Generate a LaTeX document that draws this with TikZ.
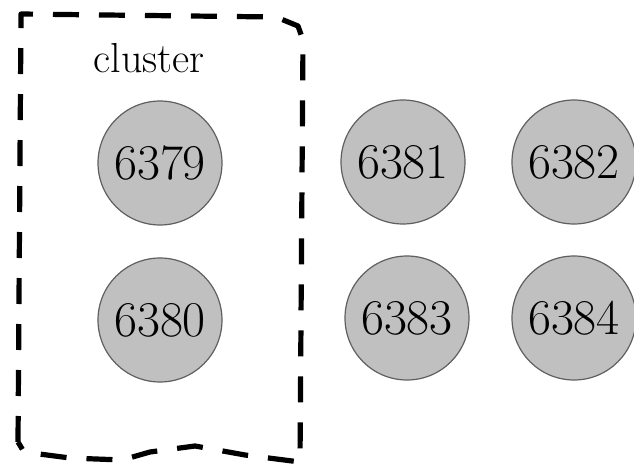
\documentclass[tikz,border=0pt]{standalone}
\usetikzlibrary{positioning}
\definecolor{portGray}{RGB}{192,192,192}
\definecolor{rimGray}{RGB}{95,95,95}

\begin{document}
\begin{tikzpicture}[
    x=0.5pt, y=-0.5pt,
    port/.style={circle, draw=rimGray, line width=0.6pt, fill=portGray, minimum size=62pt, inner sep=0pt, font=\fontsize{25}{27}\selectfont},
    clusterline/.style={line width=2.6pt, dash pattern=on 13pt off 10pt, line join=round}
]
\useasboundingbox (0,0) rectangle (634,466);

% cluster boundary
\draw[clusterline] (18,442) -- (21,14) -- (276,17) -- (298,26) -- (303,40) -- (300,462)
    -- (245,455) -- (195,446) -- (150,452) -- (122,460) -- (70,458) -- (24,452) -- cycle;
\node[font=\fontsize{21}{23}\selectfont] (label) at (149,58) {cluster};

% nodes inside the cluster
\node[port] (p6379) at (160,163) {6379};
\node[port] (p6380) at (160,320) {6380};

% nodes outside
\node[port] (p6381) at (403,162) {6381};
\node[port] (p6382) at (574,162) {6382};
\node[port] (p6383) at (407,318) {6383};
\node[port] (p6384) at (574,318) {6384};

\end{tikzpicture}
\end{document}
